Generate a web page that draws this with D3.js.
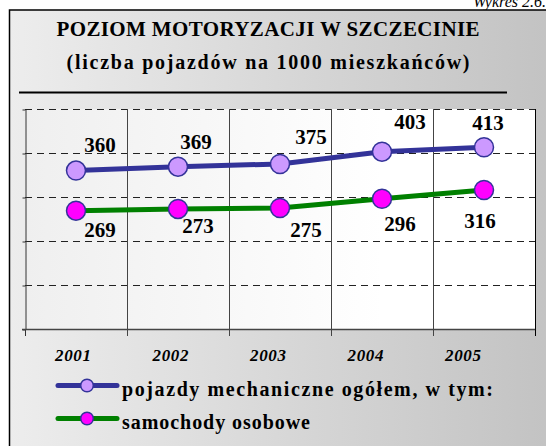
<!DOCTYPE html>
<html>
<head>
<meta charset="utf-8">
<script src="https://cdn.jsdelivr.net/npm/d3@7"></script>
<style>
  html, body { margin: 0; padding: 0; background: #ffffff; }
  svg { display: block; font-family: "Liberation Serif", "Times New Roman", serif; }
</style>
</head>
<body>
<div id="chart"></div>
<script>
(function () {
    "use strict";

    var years = ['2001', '2002', '2003', '2004', '2005'];
    var vehicles = [360, 369, 375, 403, 413];
    var cars = [269, 273, 275, 296, 316];
    var seriesNames = ['pojazdy mechaniczne ogółem, w tym:', 'samochody osobowe'];
    var yTicks = [0, 100, 200, 300, 400, 500];

    // hand placed value labels, offsets from the marker
    var vehNudge = [[24, -19], [18, -18], [31, -20], [28, -23], [4, -17]];
    var carNudge = [[24, 26], [20, 24], [26, 29], [18, 32], [-4, 38]];

    var width = 546, height = 446;
    var plot = { left: 25, right: 535, top: 109, bottom: 329 };

    var svg = d3.select('#chart').append('svg')
        .attr('width', width)
        .attr('height', height);

    var defs = svg.append('defs');
    var bgGrad = defs.append('linearGradient').attr('id', 'bg')
        .attr('x1', '0').attr('x2', '1').attr('y1', '0').attr('y2', '0');
    bgGrad.append('stop').attr('offset', '0').attr('stop-color', '#ededed');
    bgGrad.append('stop').attr('offset', '1').attr('stop-color', '#c1c1c1');

    var plotGrad = defs.append('linearGradient').attr('id', 'plotbg')
        .attr('x1', '0').attr('x2', '1').attr('y1', '0').attr('y2', '0');
    plotGrad.append('stop').attr('offset', '0').attr('stop-color', '#efefef');
    plotGrad.append('stop').attr('offset', '0.7').attr('stop-color', '#ffffff');
    plotGrad.append('stop').attr('offset', '1').attr('stop-color', '#ffffff');

    // caption above the frame (cut by the page edge, as in the source)
    svg.append('text')
        .attr('x', 546).attr('y', 7)
        .attr('text-anchor', 'end')
        .style('font-style', 'italic')
        .style('font-size', '16px')
        .text('Wykres 2.6.');

    // frame
    svg.append('rect')
        .attr('x', 9.5).attr('y', 10)
        .attr('width', 560).attr('height', 460)
        .attr('fill', 'url(#bg)')
        .attr('stroke', '#000')
        .attr('stroke-width', 1.5);

    svg.append('text')
        .attr('x', 268).attr('y', 36)
        .attr('text-anchor', 'middle')
        .attr('textLength', 423).attr('lengthAdjust', 'spacing')
        .style('font-weight', 'bold').style('font-size', '21px')
        .text('POZIOM MOTORYZACJI W SZCZECINIE');

    svg.append('text')
        .attr('x', 268).attr('y', 68.5)
        .attr('text-anchor', 'middle')
        .attr('textLength', 403).attr('lengthAdjust', 'spacing')
        .style('font-weight', 'bold').style('font-size', '20px')
        .text('(liczba pojazdów na 1000 mieszkańców)');

    svg.append('line')
        .attr('x1', 19).attr('x2', 507)
        .attr('y1', 92.5).attr('y2', 92.5)
        .attr('stroke', '#000').attr('stroke-width', 2);

    var x = d3.scaleBand().domain(years).range([plot.left, plot.right]);
    var y = d3.scaleLinear().domain([0, 500]).range([plot.bottom, plot.top]);
    var xLabel = d3.scalePoint().domain(years).range([73, 463]);

    function cx(d) { return x(d) + x.bandwidth() / 2; }

    svg.append('rect')
        .attr('x', plot.left).attr('y', plot.top)
        .attr('width', plot.right - plot.left)
        .attr('height', plot.bottom - plot.top)
        .attr('fill', 'url(#plotbg)');

    // dashed horizontal grid
    svg.append('g').selectAll('line')
        .data(yTicks.slice(1))
        .enter().append('line')
        .attr('x1', plot.left).attr('x2', plot.right)
        .attr('y1', function (d) { return y(d) + 0.5; })
        .attr('y2', function (d) { return y(d) + 0.5; })
        .attr('stroke', '#222')
        .attr('stroke-dasharray', '7,5');

    // category separators, reaching below the axis as ticks
    var bounds = years.slice(1).map(function (d) { return x(d); }).concat([plot.right]);
    svg.append('g').selectAll('line')
        .data(bounds)
        .enter().append('line')
        .attr('x1', function (d) { return Math.round(d) + 0.5; })
        .attr('x2', function (d) { return Math.round(d) + 0.5; })
        .attr('y1', plot.top).attr('y2', plot.bottom + 7)
        .attr('stroke', function (d, i) { return i === bounds.length - 1 ? '#000' : '#444'; })
        .attr('stroke-width', 1);

    // y axis with short ticks and no labels
    svg.append('g')
        .attr('transform', 'translate(' + (plot.left + 0.5) + ',0.5)')
        .call(d3.axisLeft(y).tickValues(yTicks).tickSize(3).tickFormat('').tickSizeOuter(0))
        .call(function (g) { g.selectAll('path, line').attr('stroke', '#333'); });

    svg.append('line')
        .attr('x1', plot.left + 0.5).attr('x2', plot.left + 0.5)
        .attr('y1', plot.bottom).attr('y2', plot.bottom + 7)
        .attr('stroke', '#333');

    svg.append('line')
        .attr('x1', plot.left - 3).attr('x2', plot.right)
        .attr('y1', plot.bottom + 0.5).attr('y2', plot.bottom + 0.5)
        .attr('stroke', '#444').attr('stroke-width', 1.5);

    // year labels
    svg.append('g').selectAll('text')
        .data(years)
        .enter().append('text')
        .attr('x', function (d) { return xLabel(d); })
        .attr('y', 361)
        .attr('text-anchor', 'middle')
        .attr('textLength', 36).attr('lengthAdjust', 'spacing')
        .style('font-weight', 'bold').style('font-style', 'italic')
        .style('font-size', '17px')
        .text(function (d) { return d; });

    var line = d3.line()
        .x(function (d, i) { return cx(years[i]); })
        .y(function (d) { return y(d); });

    function drawSeries(values, color, fill, nudge) {
        svg.append('path')
            .datum(values)
            .attr('d', line)
            .attr('fill', 'none')
            .attr('stroke', color)
            .attr('stroke-width', 5)
            .attr('stroke-linejoin', 'round');

        svg.append('g').selectAll('circle')
            .data(values)
            .enter().append('circle')
            .attr('cx', function (d, i) { return cx(years[i]); })
            .attr('cy', function (d) { return y(d); })
            .attr('r', 9.5)
            .attr('fill', fill)
            .attr('stroke', '#333399')
            .attr('stroke-width', 1.5);

        svg.append('g').selectAll('text')
            .data(values)
            .enter().append('text')
            .attr('x', function (d, i) { return cx(years[i]) + nudge[i][0]; })
            .attr('y', function (d, i) { return y(d) + nudge[i][1]; })
            .attr('text-anchor', 'middle')
            .style('font-weight', 'bold').style('font-size', '21px')
            .text(function (d) { return d; });
    }

    drawSeries(vehicles, '#333399', '#cc99ff', vehNudge);
    drawSeries(cars, '#008000', '#ff00ff', carNudge);

    // legend
    var legend = [
        { name: seriesNames[0], color: '#333399', fill: '#cc99ff', y: 385.5, len: 371 },
        { name: seriesNames[1], color: '#008000', fill: '#ff00ff', y: 418.5, len: 188 }
    ];
    var items = svg.append('g').selectAll('g')
        .data(legend)
        .enter().append('g')
        .attr('transform', function (d) { return 'translate(0,' + d.y + ')'; });

    items.append('line')
        .attr('x1', 58).attr('x2', 117)
        .attr('stroke', function (d) { return d.color; })
        .attr('stroke-width', 5)
        .attr('stroke-linecap', 'round');
    items.append('circle')
        .attr('cx', 87).attr('r', 6.3)
        .attr('fill', function (d) { return d.fill; })
        .attr('stroke', '#333399')
        .attr('stroke-width', 1.5);
    items.append('text')
        .attr('x', 122).attr('y', 10.5)
        .attr('textLength', function (d) { return d.len; })
        .attr('lengthAdjust', 'spacing')
        .style('font-weight', 'bold').style('font-size', '20px')
        .text(function (d) { return d.name; });
})();
</script>
</body>
</html>
